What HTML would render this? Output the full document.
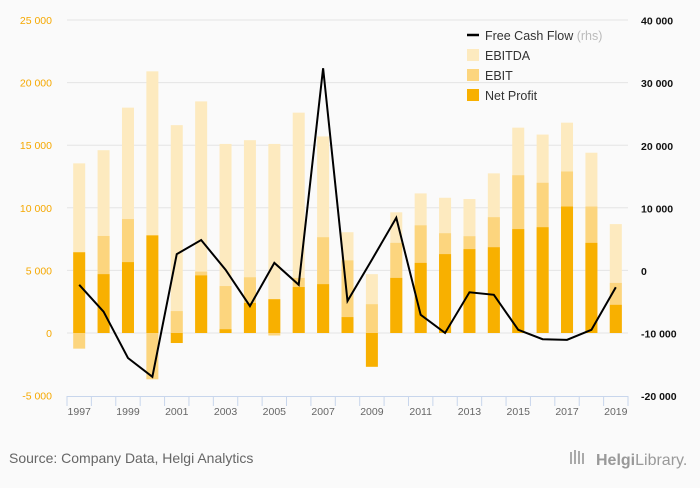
<!DOCTYPE html>
<html><head><meta charset="utf-8"><style>
html,body{margin:0;padding:0;background:#fafafa;}
svg text{font-family:"Liberation Sans",sans-serif;}
</style></head><body>
<svg width="700" height="483" viewBox="0 0 700 483" xmlns="http://www.w3.org/2000/svg">
<rect width="700" height="483" fill="#fafafa"/>
<g id="grid"></g><g id="bars"></g><g id="line"></g><g id="axes"></g>
<g>
  <line x1="467" y1="35" x2="479" y2="35" stroke="#000" stroke-width="2.5"/>
  <text x="485" y="40" font-size="12.5" fill="#333">Free Cash Flow <tspan fill="#bbb">(rhs)</tspan></text>
  <rect x="467" y="49" width="12" height="12" fill="#fdeabf"/>
  <text x="485" y="60" font-size="12.5" fill="#333">EBITDA</text>
  <rect x="467" y="69" width="12" height="12" fill="#fcd57e"/>
  <text x="485" y="80" font-size="12.5" fill="#333">EBIT</text>
  <rect x="467" y="89" width="12" height="12" fill="#f8b000"/>
  <text x="485" y="100" font-size="12.5" fill="#333">Net Profit</text>
</g>
<text x="9" y="463" font-size="14" fill="#666">Source: Company Data, Helgi Analytics</text>
<g>
  <rect x="570" y="452" width="2" height="12" fill="#aaa"/><rect x="574" y="450" width="2" height="14" fill="#aaa"/><rect x="578" y="451" width="2" height="13" fill="#aaa"/><rect x="582" y="453" width="2" height="11" fill="#aaa"/>
  <text x="596" y="465" font-size="16" fill="#999" font-family="Liberation Serif, serif"><tspan font-weight="bold">Helgi</tspan>Library.</text>
</g>
</svg>
<script>
const years=["1997","1998","1999","2000","2001","2002","2003","2004","2005","2006","2007","2008","2009","2010","2011","2012","2013","2014","2015","2016","2017","2018","2019"];
const ebitda=[13550,14600,18000,20900,16600,18500,15100,15400,15100,17600,15700,8050,4700,9640,11150,10800,10700,12750,16400,15850,16800,14400,8700];
const ebit=[-1250,7750,9100,-3700,1750,4900,3750,4450,-200,4400,7650,5800,2300,7200,8600,7970,7730,9250,12600,12000,12900,10100,4000];
const netProfit=[6450,4700,5660,7800,-800,4600,300,2400,2700,3670,3900,1270,-2700,4400,5600,6300,6700,6850,8300,8450,10100,7200,2250];
const fcf=[-2200,-6500,-13900,-16900,2700,4950,200,-5600,1300,-2200,32400,-4800,1800,8500,-7000,-9900,-3400,-3800,-9400,-10900,-11000,-9400,-2600];
const leftTicks=[-5000,0,5000,10000,15000,20000,25000];
const rightTicks=[-20000,-10000,0,10000,20000,30000,40000];
const NS="http://www.w3.org/2000/svg";
const x0=67,x1=628,band=(x1-x0)/years.length;
const yL=v=>333-v*(313/25000);
const yR=v=>271-v*(375.6/60000);
const xc=i=>x0+band*(i+0.5);
const fmt=v=>{const s=Math.abs(v).toString().replace(/\B(?=(\d{3})+(?!\d))/g," ");return (v<0?"-":"")+s;};
function mk(tag,attrs,parent){const e=document.createElementNS(NS,tag);for(const k in attrs)e.setAttribute(k,attrs[k]);parent.appendChild(e);return e;}
const grid=document.getElementById("grid"),bars=document.getElementById("bars"),line=document.getElementById("line"),axes=document.getElementById("axes");
leftTicks.forEach(t=>{
  if(t!==-5000){const g=mk("line",{x1:x0,x2:x1,y1:yL(t),y2:yL(t),stroke:"#e4e4e4","stroke-width":1},grid);
  
  }
  const l=mk("text",{x:52,y:yL(t)+4,"text-anchor":"end","font-size":"10.5",fill:"#f5a800"},axes);l.textContent=fmt(t);
  
  
});
rightTicks.forEach(t=>{
  const l=mk("text",{x:641,y:yR(t)+4,"font-size":"10.5",fill:"#111","font-weight":"bold"},axes);l.textContent=fmt(t);
  
  
});
const series=[[ebitda,"#fdeabf","bar-ebitda"],[ebit,"#fcd57e","bar-ebit"],[netProfit,"#f8b000","bar-net-profit"]];
series.forEach(([arr,col,name])=>{
  arr.forEach((v,i)=>{
    const y=Math.min(yL(v),yL(0)),h=Math.abs(yL(v)-yL(0));
    const r=mk("rect",{x:xc(i)-6,y:y,width:12,height:h,fill:col},bars);
    
    
  });
});
const pl=mk("polyline",{points:fcf.map((v,i)=>xc(i)+","+yR(v)).join(" "),fill:"none",stroke:"#000","stroke-width":2,"stroke-linejoin":"miter"},line);


const ax=mk("line",{x1:x0,x2:x1,y1:396.5,y2:396.5,stroke:"#c8d6ec","stroke-width":1},axes);


for(let i=0;i<=years.length;i++){
  const t=mk("line",{x1:x0+band*i,x2:x0+band*i,y1:396,y2:406,stroke:"#c8d6ec","stroke-width":1},axes);
  
  
}
years.forEach((y,i)=>{
  if(i%2===0){const l=mk("text",{x:xc(i),y:415,"text-anchor":"middle","font-size":"10.5",fill:"#666"},axes);l.textContent=y;
  
  }
});
</script>
</body></html>
